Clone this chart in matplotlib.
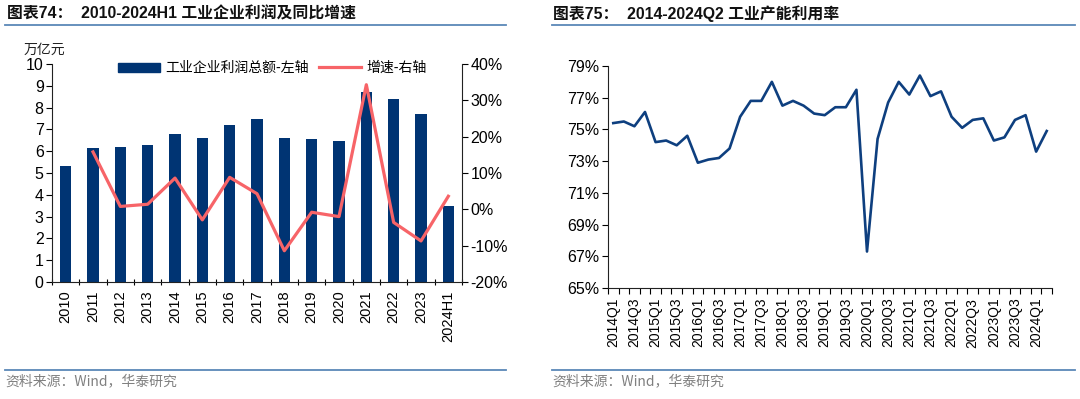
import matplotlib
matplotlib.use("Agg")
import matplotlib.pyplot as plt
from matplotlib.ticker import FixedLocator, FuncFormatter, MultipleLocator
from matplotlib.lines import Line2D

plt.rcParams['font.family'] = ['Liberation Sans', 'Noto Sans CJK SC', 'DejaVu Sans']

# ---------------- data ----------------
years = ["2010", "2011", "2012", "2013", "2014", "2015", "2016", "2017",
         "2018", "2019", "2020", "2021", "2022", "2023", "2024H1"]
profit = [5.3, 6.15, 6.2, 6.3, 6.8, 6.6, 7.2, 7.5, 6.6, 6.55, 6.45, 8.7, 8.4, 7.7, 3.5]
growth = [None, 15.8, 0.8, 1.4, 8.6, -2.9, 8.8, 4.3, -11.4, -0.8, -2.0, 34.3, -3.6, -8.7, 3.6]

quarters = [f"{y}Q{q}" for y in range(2014, 2025) for q in range(1, 5)][:42]
util = [75.4, 75.5, 75.2, 76.1, 74.2, 74.3, 74.0, 74.6,
        72.9, 73.1, 73.2, 73.8, 75.8, 76.8, 76.8, 78.0,
        76.5, 76.8, 76.5, 76.0, 75.9, 76.4, 76.4, 77.5,
        67.3, 74.4, 76.7, 78.0, 77.2, 78.4, 77.1, 77.4,
        75.8, 75.1, 75.6, 75.7, 74.3, 74.5, 75.6, 75.9,
        73.6, 74.9]
util_ticks = [65, 67, 69, 71, 73, 75, 77, 79]

left_title = "图表74：  2010-2024H1 工业企业利润及同比增速"
right_title = "图表75：  2014-2024Q2 工业产能利用率"
source = "资料来源：Wind，华泰研究"

BAR = "#003473"
RED = "#F76468"
LINE = "#0E3F7F"
RULE = "#5A88B8"
W, H = 1080, 399

fig = plt.figure(figsize=(W / 100, H / 100), dpi=100)

def px_axes(x0, y0, x1, y1):
    return fig.add_axes([x0 / W, 1 - y1 / H, (x1 - x0) / W, (y1 - y0) / H])

# ---------------- left chart ----------------
ax = px_axes(52, 64, 462, 282)
x = list(range(len(years)))
ax.bar(x, profit, width=0.42, color=BAR, zorder=2)
ax.set_xlim(-0.5, len(years) - 0.5)
ax.set_ylim(0, 10)
ax.yaxis.set_major_locator(MultipleLocator(1))
ax.set_xticks(x)
ax.set_xticklabels(years, rotation=90, fontsize=10.5)
ax.tick_params(axis='x', which='major', length=0, pad=6)
ax.xaxis.set_minor_locator(FixedLocator([i - 0.5 for i in range(len(years) + 1)]))
ax.tick_params(axis='x', which='minor', length=5, direction='inout', width=0.8)
ax.tick_params(axis='y', length=4, width=0.8, direction='out', pad=2, labelsize=11.5)
ax.spines['top'].set_visible(False)
ax.spines['right'].set_visible(False)
for s in ('left', 'bottom'):
    ax.spines[s].set_linewidth(0.8)
    ax.spines[s].set_color('#222222')

ax2 = ax.twinx()
gx = [i for i, g in zip(x, growth) if g is not None]
gy = [g for g in growth if g is not None]
ax2.plot(gx, gy, color=RED, lw=2.3, zorder=3)
ax2.set_ylim(-20, 40)
ax2.yaxis.set_major_locator(MultipleLocator(10))
ax2.yaxis.set_major_formatter(FuncFormatter(lambda v, p: f"{v:.0f}%"))
ax2.tick_params(axis='y', length=4, width=0.8, direction='out', pad=2, labelsize=11.5)
ax2.spines['top'].set_visible(False)
ax2.spines['left'].set_visible(False)
ax2.spines['bottom'].set_visible(False)
ax2.spines['right'].set_linewidth(0.8)
ax2.spines['right'].set_color('#222222')

fig.text(24 / W, 1 - 50 / H, "万亿元", fontsize=10, family=['Noto Sans CJK SC'],
         va='center', ha='left', color='#222222')

handles = [plt.Rectangle((0, 0), 1, 1, color=BAR),
           Line2D([0], [0], color=RED, lw=2.3)]
ax2.legend(handles, ["工业企业利润总额-左轴", "增速-右轴"], loc='center left',
           bbox_to_anchor=((118 - 52) / 410, (282 - 68) / 218), ncol=2, frameon=False,
           prop=dict(family=['Noto Sans CJK SC'], size=10),
           borderaxespad=0, borderpad=0,
           handlelength=3.0, handleheight=0.6, columnspacing=0.75, handletextpad=0.4)

# ---------------- right chart ----------------
bx = px_axes(608, 66, 1052, 288)
qx = list(range(len(util)))
bx.plot(qx, util, color=LINE, lw=1.9)
bx.set_xlim(-0.5, len(util) - 0.5)
bx.set_ylim(util_ticks[0], util_ticks[-1])
bx.set_yticks(util_ticks)
bx.yaxis.set_major_formatter(FuncFormatter(lambda v, p: f"{v:.0f}%"))
bx.set_xticks(qx[::2])
bx.set_xticklabels(quarters[::2], rotation=90, fontsize=10)
bx.tick_params(axis='x', which='major', length=0, pad=7)
bx.xaxis.set_minor_locator(FixedLocator([i - 0.5 for i in range(len(util) + 1)]))
bx.tick_params(axis='x', which='minor', length=4, direction='out', width=0.8)
bx.tick_params(axis='y', length=4, width=0.8, direction='out', pad=2, labelsize=11.5)
bx.spines['top'].set_visible(False)
bx.spines['right'].set_visible(False)
for s in ('left', 'bottom'):
    bx.spines[s].set_linewidth(0.8)
    bx.spines[s].set_color('#222222')

# ---------------- titles, rules, sources ----------------
tfont = dict(fontsize=11.4, fontweight='bold', family=['Liberation Sans', 'Noto Sans CJK SC'],
             color='#111111', va='center', ha='left')
fig.text(7 / W, 1 - 14 / H, left_title, **tfont)
fig.text(553 / W, 1 - 14 / H, right_title, **tfont)

for (x0, x1) in [(5, 506), (552, 1075)]:
    fig.add_artist(Line2D([x0 / W, x1 / W], [1 - 24.5 / H] * 2, color=RULE, lw=1.3))
    fig.add_artist(Line2D([x0 / W, x1 / W], [1 - 369.5 / H] * 2, color=RULE, lw=1.3))

sfont = dict(fontsize=10, family=['Noto Sans CJK SC'], color='#808080', va='center', ha='left')
fig.text(5 / W, 1 - 381 / H, source, **sfont)
fig.text(552 / W, 1 - 381 / H, source, **sfont)

fig.savefig("out.png", dpi=100)
